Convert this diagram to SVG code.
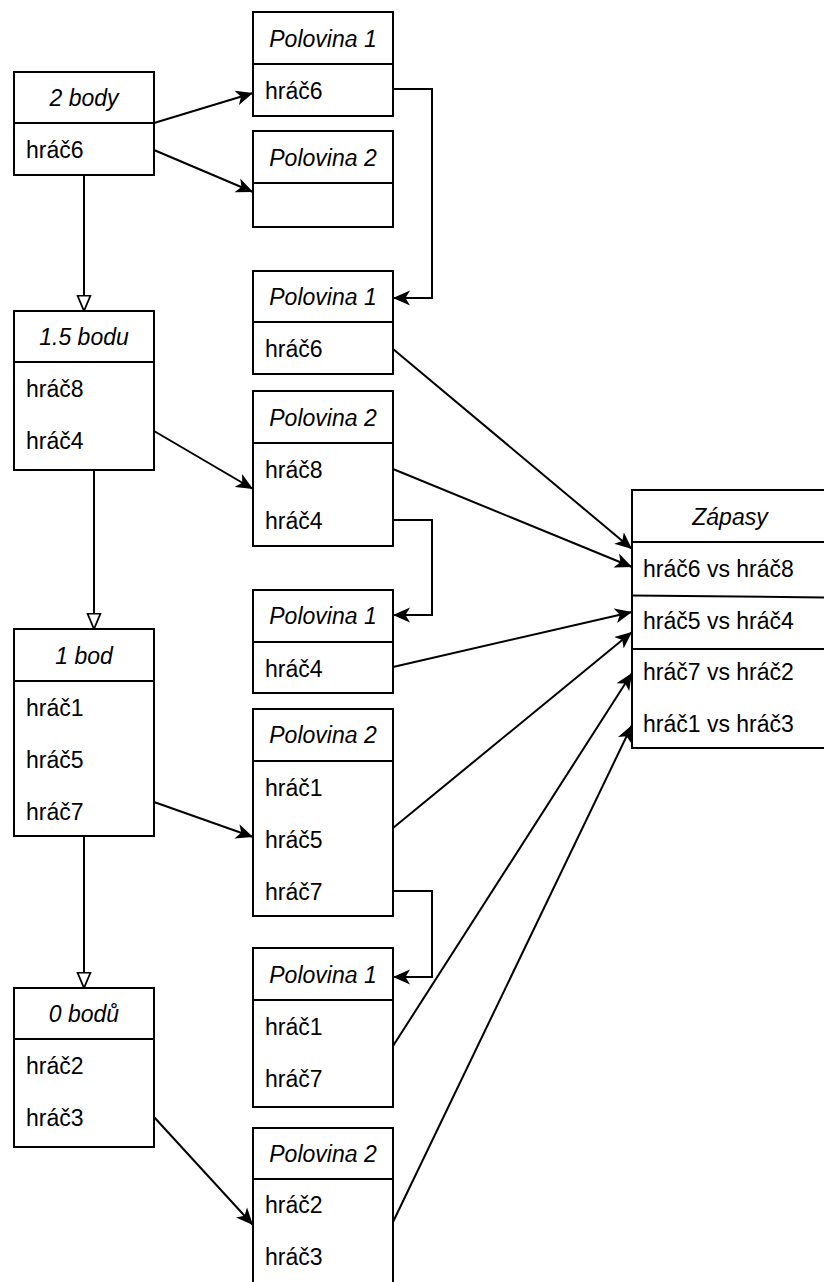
<svg xmlns="http://www.w3.org/2000/svg" width="824" height="1282" viewBox="0 0 824 1282">
  <style>
    .box { fill: #ffffff; stroke: #000000; stroke-width: 2; }
    .sep { fill: none; stroke: #000000; stroke-width: 2; }
    .hd { font-family: "Liberation Sans", Arial, Helvetica, sans-serif; font-size: 23px; font-style: italic; text-anchor: middle; fill: #000000; }
    .it { font-family: "Liberation Sans", Arial, Helvetica, sans-serif; font-size: 23px; fill: #000000; }
    .edge { fill: none; stroke: #000000; stroke-width: 2; }
    .fwd { marker-end: url(#arrow); }
    .down { marker-end: url(#openArrow); }
  </style>
  <defs>
    <marker id="arrow" markerUnits="userSpaceOnUse" markerWidth="18" markerHeight="16" viewBox="0 0 18 16" refX="17" refY="8" orient="auto">
      <path d="M17,8 L0,0.5 L4.5,8 L0,15.5 Z" fill="#000000"/>
    </marker>
    <marker id="openArrow" markerUnits="userSpaceOnUse" markerWidth="18" markerHeight="16" viewBox="0 0 18 16" refX="16.5" refY="8" orient="auto">
      <path d="M16.5,8 L1,1.5 L1,14.5 Z" fill="#ffffff" stroke="#000000" stroke-width="1.8"/>
    </marker>
  </defs>

  <rect x="0" y="0" width="824" height="1282" fill="#ffffff"/>

  <!-- connectors -->
  <g id="connectors">
    <!-- score groups split into halves -->
    <path class="edge fwd" d="M154,123 L253,93"/>
    <path class="edge fwd" d="M154,150 L253,192"/>
    <path class="edge fwd" d="M154,431 L253,489"/>
    <path class="edge fwd" d="M154,802 L253,837"/>
    <path class="edge fwd" d="M154,1117 L253,1225"/>
    <!-- descending score groups -->
    <path class="edge down" d="M84,175 L84,311"/>
    <path class="edge down" d="M94,470 L94,629"/>
    <path class="edge down" d="M84,836 L84,988"/>
    <!-- players carried over to the next group -->
    <path class="edge fwd" d="M393,89 L432,89 L432,298 L393,298"/>
    <path class="edge fwd" d="M393,520 L432,520 L432,615 L393,615"/>
    <path class="edge fwd" d="M393,891 L432,891 L432,977 L393,977"/>
    <!-- pairings -->
    <path class="edge fwd" d="M393,349 L632,549"/>
    <path class="edge fwd" d="M393,469 L632,567"/>
    <path class="edge fwd" d="M393,667 L632,612"/>
    <path class="edge fwd" d="M393,828 L632,632"/>
    <path class="edge fwd" d="M393,1046 L632,673"/>
    <path class="edge fwd" d="M393,1222 L632,725"/>
  </g>

  <!-- left column: score groups -->
  <g id="body2">
    <rect class="box" x="14" y="72" width="140" height="103"/>
    <line class="sep" x1="14" y1="123" x2="154" y2="123"/>
    <text class="hd" x="84" y="106">2 body</text>
    <text class="it" x="26" y="158">hráč6</text>
  </g>
  <g id="body15">
    <rect class="box" x="14" y="311" width="140" height="159"/>
    <line class="sep" x1="14" y1="362" x2="154" y2="362"/>
    <text class="hd" x="84" y="345">1.5 bodu</text>
    <text class="it" x="26" y="397">hráč8</text>
    <text class="it" x="26" y="449">hráč4</text>
  </g>
  <g id="body1">
    <rect class="box" x="14" y="629" width="140" height="207"/>
    <line class="sep" x1="14" y1="681" x2="154" y2="681"/>
    <text class="hd" x="84" y="664">1 bod</text>
    <text class="it" x="26" y="716">hráč1</text>
    <text class="it" x="26" y="768">hráč5</text>
    <text class="it" x="26" y="820">hráč7</text>
  </g>
  <g id="body0">
    <rect class="box" x="14" y="988" width="140" height="159"/>
    <line class="sep" x1="14" y1="1039" x2="154" y2="1039"/>
    <text class="hd" x="84" y="1022">0 bodů</text>
    <text class="it" x="26" y="1074">hráč2</text>
    <text class="it" x="26" y="1126">hráč3</text>
  </g>

  <!-- middle column: halves -->
  <g id="half1a">
    <rect class="box" x="253" y="12" width="140" height="104"/>
    <line class="sep" x1="253" y1="64" x2="393" y2="64"/>
    <text class="hd" x="323" y="47">Polovina 1</text>
    <text class="it" x="265" y="99">hráč6</text>
  </g>
  <g id="half2a">
    <rect class="box" x="253" y="131" width="140" height="96"/>
    <line class="sep" x1="253" y1="183" x2="393" y2="183"/>
    <text class="hd" x="323" y="166">Polovina 2</text>
  </g>
  <g id="half1b">
    <rect class="box" x="253" y="271" width="140" height="103"/>
    <line class="sep" x1="253" y1="322" x2="393" y2="322"/>
    <text class="hd" x="323" y="305">Polovina 1</text>
    <text class="it" x="265" y="357">hráč6</text>
  </g>
  <g id="half2b">
    <rect class="box" x="253" y="391" width="140" height="155"/>
    <line class="sep" x1="253" y1="443" x2="393" y2="443"/>
    <text class="hd" x="323" y="426">Polovina 2</text>
    <text class="it" x="265" y="478">hráč8</text>
    <text class="it" x="265" y="529">hráč4</text>
  </g>
  <g id="half1c">
    <rect class="box" x="253" y="590" width="140" height="103"/>
    <line class="sep" x1="253" y1="642" x2="393" y2="642"/>
    <text class="hd" x="323" y="624">Polovina 1</text>
    <text class="it" x="265" y="677">hráč4</text>
  </g>
  <g id="half2c">
    <rect class="box" x="253" y="709" width="140" height="207"/>
    <line class="sep" x1="253" y1="761" x2="393" y2="761"/>
    <text class="hd" x="323" y="743">Polovina 2</text>
    <text class="it" x="265" y="796">hráč1</text>
    <text class="it" x="265" y="848">hráč5</text>
    <text class="it" x="265" y="900">hráč7</text>
  </g>
  <g id="half1d">
    <rect class="box" x="253" y="948" width="140" height="159"/>
    <line class="sep" x1="253" y1="1000" x2="393" y2="1000"/>
    <text class="hd" x="323" y="983">Polovina 1</text>
    <text class="it" x="265" y="1035">hráč1</text>
    <text class="it" x="265" y="1087">hráč7</text>
  </g>
  <g id="half2e">
    <rect class="box" x="253" y="1128" width="140" height="162"/>
    <line class="sep" x1="253" y1="1179" x2="393" y2="1179"/>
    <text class="hd" x="323" y="1162">Polovina 2</text>
    <text class="it" x="265" y="1213">hráč2</text>
    <text class="it" x="265" y="1265">hráč3</text>
  </g>

  <!-- right: resulting matches -->
  <g id="zapasy">
    <rect class="box" x="632" y="490" width="197" height="258"/>
    <line class="sep" x1="632" y1="542" x2="829" y2="542"/>
    <line class="sep" x1="632" y1="595.5" x2="829" y2="597.5"/>
    <line class="sep" x1="632" y1="649" x2="829" y2="649"/>
    <text class="hd" x="730" y="525">Zápasy</text>
    <text class="it" x="643" y="577">hráč6 vs hráč8</text>
    <text class="it" x="643" y="629">hráč5 vs hráč4</text>
    <text class="it" x="643" y="680">hráč7 vs hráč2</text>
    <text class="it" x="643" y="732">hráč1 vs hráč3</text>
  </g>
</svg>
